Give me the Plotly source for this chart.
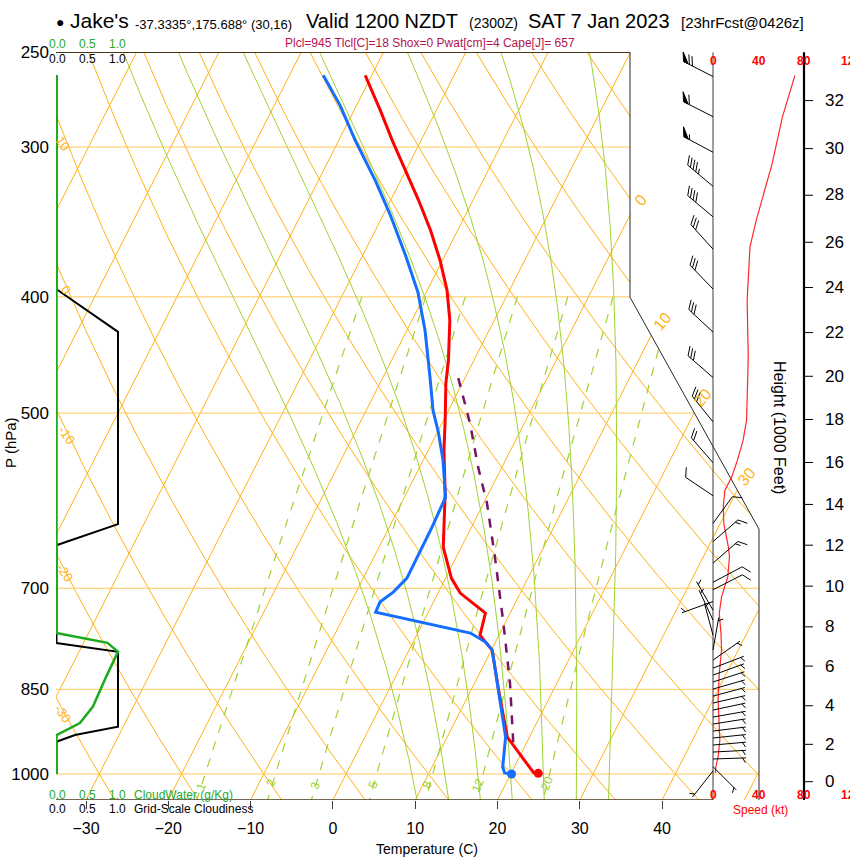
import numpy as np
import plotly.graph_objects as go

FONT = "Liberation Sans, Arial, sans-serif"
W, H = 850, 860
PL, PR, PT, PB = 56, 850, 52, 800          # plot box in pixels

# ---------------- sounding values ----------------
temp_hpa = [261.4, 279.6, 296.2, 313.7, 332.3, 352.0, 372.8, 394.9, 418.4, 451.8, 472.1, 506.9,
            536.9, 583.1, 646.8, 686.5, 706.5, 734.2, 765.9, 776.2, 788.2, 846.2, 931.5, 997.5, 998.7]
temp_c = [-40.8, -36.8, -33.5, -30.1, -26.6, -23.3, -20.3, -17.6, -15.4, -13.1, -12.0, -9.8,
          -8.1, -5.3, -2.2, 0.7, 2.7, 7.0, 7.7, 8.8, 10.1, 13.1, 17.3, 22.7, 23.3]

dewp_hpa = [261.4, 276.9, 296.2, 319.8, 342.0, 369.3, 396.5, 426.5, 466.7, 497.2, 519.7, 547.3,
            587.6, 622.4, 686.5, 705.2, 718.8, 732.8, 762.9, 776.2, 788.2, 846.2, 931.5, 986.7,
            998.1, 1000.0]
dewp_c = [-45.9, -42.0, -38.0, -33.1, -29.1, -24.8, -21.0, -17.8, -14.3, -11.9, -9.8, -7.6,
          -5.0, -4.8, -4.7, -5.5, -6.5, -6.4, 6.4, 8.8, 10.1, 13.1, 17.1, 18.6, 19.2, 20.1]

parcel_hpa = [467.6, 509.8, 554.7, 594.4, 659.4, 748.4, 839.7, 942.2]
parcel_c = [-10.8, -6.6, -2.9, 0.4, 4.7, 9.8, 14.3, 18.4]

cloud_hpa = [261.4, 394.2, 427.8, 618.9, 644.4, 777.7, 790.8, 913.2, 927.9, 939.9, 1000.0]
cloud_frac = [0, 0, 1.0, 1.0, 0, 0, 1.0, 1.0, 0.3, 0, 0]
cw_hpa = [261.4, 762.9, 777.3, 790.8, 827.0, 851.1, 878.8, 906.8, 919.0, 927.9, 1000.0]
cw_gkg = [0, 0, 0.83, 1.0, 0.82, 0.71, 0.59, 0.38, 0.17, 0, 0]

spd_hpa = [261.4, 283.2, 309.7, 330.2, 345.3, 363.4, 382.3, 402.6, 448.9, 506.9, 526.7, 547.3,
           565.2, 579.8, 598.6, 618.0, 646.4, 659.0, 684.8, 711.6, 734.6, 763.3, 788.2, 824.2,
           867.6, 901.6, 936.8, 967.3, 986.0, 998.1]
spd_kt = [72, 61, 52, 44, 38, 32.5, 31, 30, 31, 29.5, 26.5, 21.5, 16.5, 10.5, 9, 9.5, 13.5, 14.5,
          13, 7.5, 5.5, 7, 7.5, 5.5, 4.5, 5.5, 6, 4.5, 2.5, 2]

barb_hpa = [262, 283, 303, 323.5, 343, 365, 394, 428, 467, 508.5, 550, 586, 618, 640, 667, 692,
            702, 718, 730, 744, 766, 788, 803.5, 816, 827, 838, 849.5, 861, 872.6, 884.4, 896.4,
            908.5, 920.8, 933.2, 945.9, 958.7, 971.6, 986, 994]
barb_dir = [297, 297, 298, 310, 310, 318, 316, 313, 311, 321, 319, 304, 36, 49, 49, 62, 63, 250,
            330, 335, 345, 10, 55, 69, 70, 72, 74, 75, 77, 78, 80, 81, 83, 84, 85, 87, 88, 135, 218]
barb_kt = [70, 60, 55, 45, 40, 30, 30, 30, 30, 30, 20, 10, 10, 15, 15, 10, 10, 5, 5, 5, 5, 5, 5,
           5, 5, 5, 5, 5, 5, 5, 5, 5, 5, 5, 5, 5, 5, 5, 5]

height_kft = list(range(0, 34, 2))
height_hpa = [1014.9, 944.6, 877.1, 812.8, 753.8, 697.1, 644.4, 595.9, 549.8, 506.2, 465.9,
              428.4, 392.9, 360.2, 329.1, 300.9, 274.4]

pres_ticks = [250, 300, 400, 500, 700, 850, 1000]
isobars = [300, 400, 500, 700, 850, 1000]
mixing_ratios = [1, 2, 3, 5, 8, 12, 20]
moist_tw = [8, 12, 16, 20, 24, 28, 32]

# ---------------- skew-T geometry ----------------
PX_PER_C = 8.23
PX_PER_LN = 521.0
Y1000 = 774.0
SKEW = 32.14


def px_to_X(px):
    return -30 + (np.asarray(px, float) - 86) / PX_PER_C


def X_to_px(X):
    return 86 + (np.asarray(X, float) + 30) * PX_PER_C


def py_to_p(py):
    return 1000 * np.exp((np.asarray(py, float) - Y1000) / PX_PER_LN)


def p_to_py(p):
    return Y1000 - PX_PER_LN * np.log(1000 / np.asarray(p, float))


P_BOT = float(py_to_p(PB))
P_TOP = 249.95


def skewx(T, p):
    return np.asarray(T, float) + SKEW * np.log(P_BOT / np.asarray(p, float))


def xmax_px(py):
    py = np.asarray(py, float)
    return np.where(py < 297, 630, np.where(py < 529, 630 + (py - 297) * 129 / 232, 759))


def clip(T, p):
    X = skewx(T, p)
    ok = X_to_px(X) <= xmax_px(p_to_py(p)) + 0.3
    return np.where(ok, X, np.nan), np.asarray(p, float)


fig = go.Figure()
ORANGE = "rgb(255,178,20)"
GREEN = "rgb(160,210,50)"


def add_line(x, y, color, width=1.0, dash="solid"):
    fig.add_trace(go.Scatter(x=x, y=y, mode="lines", line=dict(color=color, width=width, dash=dash),
                             hoverinfo="skip"))


pp = np.geomspace(P_TOP, P_BOT, 700)

# isotherms
for t in range(-110, 60, 10):
    x, y = clip(np.full_like(pp, t), pp)
    add_line(x, y, ORANGE)

# dry adiabats
for th in range(-40, 170, 10):
    x, y = clip((th + 273.15) * (pp / 1000) ** 0.2857 - 273.15, pp)
    add_line(x, y, ORANGE)

# isobars
for p in isobars:
    py = float(p_to_py(p))
    add_line([px_to_X(PL), px_to_X(float(xmax_px(py)))], [p, p], "rgb(255,200,90)", 1.0)


# moist adiabats
def es(tc):
    return 6.112 * np.exp(17.67 * tc / (tc + 243.5))


def dtdp(T, p):
    Rd, Cp, Lv, eps = 287.04, 1005.7, 2.501e6, 0.622
    e = es(T - 273.15)
    rs = eps * e / (p - e)
    return (Rd * T + Lv * rs) / (p * (Cp + Lv * Lv * rs * eps / (Rd * T * T)))


def integrate(T0, ps):
    out = [T0]
    T = T0
    for i in range(1, len(ps)):
        p0, h = ps[i - 1], ps[i] - ps[i - 1]
        k1 = dtdp(T, p0)
        k2 = dtdp(T + h * k1 / 2, p0 + h / 2)
        k3 = dtdp(T + h * k2 / 2, p0 + h / 2)
        k4 = dtdp(T + h * k3, p0 + h)
        T = T + h * (k1 + 2 * k2 + 2 * k3 + k4) / 6
        out.append(T)
    return np.array(out)


for tw in moist_tw:
    pu = np.linspace(1000, 250, 376)
    pd = np.linspace(1000, P_BOT, 27)
    tu = integrate(tw + 273.15, pu)
    td = integrate(tw + 273.15, pd)
    ps = np.concatenate([pd[::-1], pu[1:]])
    ts = np.concatenate([td[::-1], tu[1:]]) - 273.15
    x, y = clip(ts, ps)
    add_line(x, y, GREEN, 1.0)

# mixing ratio lines
pm = np.geomspace(400, P_BOT, 200)
for w in mixing_ratios:
    e = w * pm / (622 + w)
    a = np.log(e / 6.112)
    x, y = clip(243.5 * a / (17.67 - a), pm)
    add_line(x, y, GREEN, 1.2, "dash")

# frame lines
DARK = "rgb(70,55,25)"
add_line([px_to_X(PL), px_to_X(630)], [py_to_p(52), py_to_p(52)], DARK, 1.5)
add_line([px_to_X(PL), px_to_X(713)], [py_to_p(800), py_to_p(800)], DARK, 1.5)
add_line(px_to_X([630, 630, 759, 759]), py_to_p([52, 297, 529, 800]), "rgb(40,40,40)", 1.0)
add_line(px_to_X([713, 713]), py_to_p([52, 800]), "rgb(60,60,60)", 1.0)
add_line(px_to_X([804, 804]), py_to_p([52, 800]), "black", 2.2)
for p in height_hpa:
    add_line(px_to_X([804, 813]), [p, p], "black", 1.0)

# cloudiness / cloud water (0..1 mapped onto 56.5..118 px)
cx = px_to_X(56.5 + 61.5 * np.array(cloud_frac))
add_line(cx, cloud_hpa, "black", 2.0)
gx = px_to_X(56.5 + 61.5 * np.array(cw_gkg))
add_line(gx, cw_hpa, "rgb(30,170,30)", 2.5)

# profiles
add_line(skewx(parcel_c, parcel_hpa), parcel_hpa, "rgb(120,20,100)", 2.5, "dash")
add_line(skewx(temp_c, temp_hpa), temp_hpa, "rgb(255,0,0)", 3.0)
add_line(skewx(dewp_c, dewp_hpa), dewp_hpa, "rgb(20,110,255)", 3.0)
fig.add_trace(go.Scatter(x=[skewx(temp_c[-1], temp_hpa[-1]), skewx(dewp_c[-1], dewp_hpa[-1])],
                         y=[temp_hpa[-1], dewp_hpa[-1]], mode="markers",
                         marker=dict(color=["rgb(255,0,0)", "rgb(20,110,255)"], size=9),
                         hoverinfo="skip"))

# wind speed profile
add_line(px_to_X(713 + 1.1375 * np.array(spd_kt)), spd_hpa, "rgb(255,40,40)", 1.2)

# wind barbs
bx_all, by_all = [], []
flags = []
for p, d, s in zip(barb_hpa, barb_dir, barb_kt):
    bx, by = 713.0, float(p_to_py(p))
    th = np.radians(90 - d)
    ux, uy = np.cos(th), -np.sin(th)
    ft = th - np.radians(60)
    fx, fy = np.cos(ft), -np.sin(ft)
    L = 33.0
    tx, ty = bx + L * ux, by + L * uy
    bx_all += [bx, tx, None]
    by_all += [by, ty, None]
    n50, n10, n5 = s // 50, (s % 50) // 10, (s % 10) // 5
    pos = 0.0
    for _ in range(n50):
        ax, ay = tx - pos * ux, ty - pos * uy
        cx2, cy2 = tx - (pos + 5) * ux, ty - (pos + 5) * uy
        flags.append(([ax, ax + 10 * fx, cx2, ax], [ay, ay + 10 * fy, cy2, ay]))
        pos += 6.5
    if n50 == 0 and n10 == 0:
        pos = 3.5
    for _ in range(n10):
        ax, ay = tx - pos * ux, ty - pos * uy
        bx_all += [ax, ax + 10 * fx, None]
        by_all += [ay, ay + 10 * fy, None]
        pos += 3.5
    for _ in range(n5):
        ax, ay = tx - pos * ux, ty - pos * uy
        bx_all += [ax, ax + 5.5 * fx, None]
        by_all += [ay, ay + 5.5 * fy, None]

conv_x = [None if v is None else float(px_to_X(v)) for v in bx_all]
conv_y = [None if v is None else float(py_to_p(v)) for v in by_all]
add_line(conv_x, conv_y, "black", 1.0)
for fxs, fys in flags:
    fig.add_trace(go.Scatter(x=px_to_X(fxs), y=py_to_p(fys), mode="lines", fill="toself",
                             fillcolor="black", line=dict(color="black", width=1), hoverinfo="skip"))

# ---------------- text ----------------
ann = []


def txt(px, py, s, size, color="black", xa="center", ya="middle", angle=0):
    ann.append(dict(x=(px - PL) / (PR - PL), y=(PB - py) / (PB - PT), xref="paper", yref="paper",
                    text=s, showarrow=False, xanchor=xa, yanchor=ya, textangle=angle,
                    font=dict(family=FONT, size=size, color=color)))


txt(60, 22, "●", 14)
txt(68, 21, "Jake's", 21, xa="left")
txt(133, 24, "-37.3335°,175.688° (30,16)", 13, xa="left")
txt(304, 21, "Valid 1200 NZDT", 20, xa="left")
txt(467, 23, "(2300Z)", 14, xa="left")
txt(526, 21, "SAT 7 Jan 2023", 20, xa="left")
txt(679, 23, "[23hrFcst@0426z]", 15, xa="left")
txt(283, 43, "Plcl=945 Tlcl[C]=18 Shox=0 Pwat[cm]=4 Cape[J]= 657", 12, "rgb(180,20,80)", xa="left")

CWG = "rgb(40,170,40)"
for v, xp in zip(["0.0", "0.5", "1.0"], [57, 87, 117]):
    txt(xp, 44, v, 12, CWG)
    txt(xp, 59, v, 12)
    txt(xp, 795, v, 12, CWG)
    txt(xp, 809, v, 12)
txt(132, 795, "CloudWater (g/Kg)", 12, CWG, xa="left")
txt(132, 809, "Grid-Scale Cloudiness", 12, xa="left")

txt(10, 443, "P (hPa)", 15, angle=-90)
txt(427, 849, "Temperature (C)", 14)
txt(780, 427, "Height (1000 Feet)", 16, angle=90)
for k, p in zip(height_kft, height_hpa):
    txt(823, float(p_to_py(p)), str(k), 17, xa="left")

RED = "rgb(255,0,0)"
for v, xp in zip(["0", "40", "80"], [713, 758.5, 804]):
    txt(xp, 61, "<b>%s</b>" % v, 12, RED)
    txt(xp, 795, "<b>%s</b>" % v, 12, RED)
# the 120 kt label runs off the right edge, as in the original
txt(839, 61, "<b>120</b>", 12, RED, xa="left")
txt(839, 795, "<b>120</b>", 12, RED, xa="left")
txt(760, 810, "Speed (kt)", 12, RED)

# dry adiabat labels (left) and isotherm labels (right)
for s, xp, yp in [("10", 63, 143), ("0", 66, 289), ("-10", 66, 435), ("-20", 65, 572), ("-30", 63, 713)]:
    txt(xp, yp, s, 13, ORANGE, angle=55)
for s, xp, yp in [("0", 640, 200), ("10", 662, 321), ("20", 703, 398), ("30", 747, 477)]:
    txt(xp, yp, s, 16, ORANGE, angle=-50)
for s, xp, yp in zip([str(w) for w in mixing_ratios], [201, 271, 315, 373, 427, 478, 547],
                     [787, 783, 786, 785, 785, 785, 783]):
    txt(xp, yp, s, 12, GREEN, angle=-70)

fig.update_layout(
    width=W, height=H, margin=dict(l=PL, r=W - PR, t=PT, b=H - PB),
    plot_bgcolor="white", paper_bgcolor="white", showlegend=False,
    font=dict(family=FONT, color="black"), annotations=ann,
    xaxis=dict(range=[float(px_to_X(PL)), float(px_to_X(PR))], tickvals=list(range(-30, 50, 10)),
               ticks="outside", ticklen=8, tickcolor="rgb(60,60,60)", showgrid=False,
               zeroline=False, showline=False, tickfont=dict(size=16), ticklabelstandoff=6),
    yaxis=dict(type="log", range=[np.log10(P_BOT), np.log10(P_TOP)],
               tickvals=pres_ticks, ticktext=[str(v) for v in pres_ticks],
               ticks="", showgrid=False, zeroline=False, showline=False,
               tickfont=dict(size=17), ticklabelstandoff=6),
)

fig.write_html("out.html", config={"displayModeBar": False},
               post_script="document.body.style.margin='0';")
